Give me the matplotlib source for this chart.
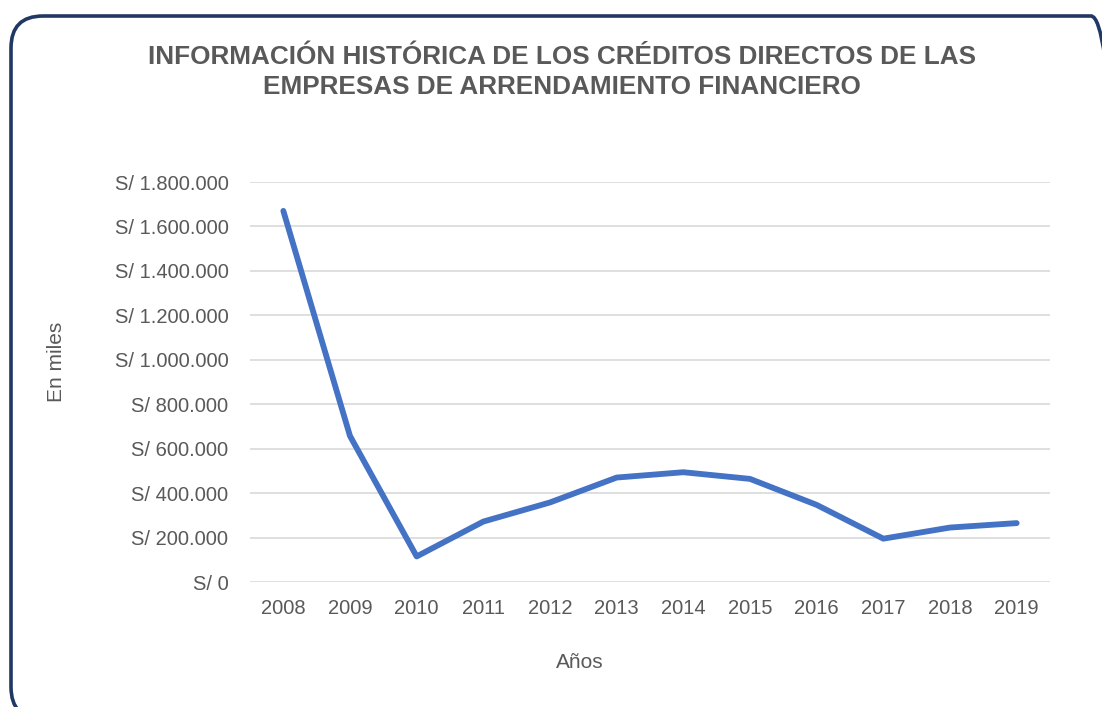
import matplotlib
matplotlib.use("Agg")
import matplotlib.pyplot as plt
from matplotlib.patches import FancyBboxPatch
from matplotlib.ticker import FuncFormatter
from matplotlib import font_manager

years = ["2008", "2009", "2010", "2011", "2012", "2013", "2014", "2015", "2016", "2017", "2018", "2019"]
credits = [1670000, 657000, 115000, 272000, 358000, 470000, 494000, 464000, 347000, 195000, 245000, 265000]
yticks = [0, 200000, 400000, 600000, 800000, 1000000, 1200000, 1400000, 1600000, 1800000]

names = {f.name for f in font_manager.fontManager.ttflist}
fam = ["Liberation Sans Narrow", "Liberation Sans", "DejaVu Sans"] if "Liberation Sans Narrow" in names else ["Liberation Sans", "DejaVu Sans"]
plt.rcParams["font.family"] = fam

W, H = 1102, 707
fig = plt.figure(figsize=(W / 100, H / 100), dpi=100)
fig.patch.set_facecolor("white")

# background axes in pixel units for the rounded frame
bg = fig.add_axes([0, 0, 1, 1], zorder=-1)
bg.set_xlim(0, W)
bg.set_ylim(0, H)
bg.axis("off")
border = FancyBboxPatch((11, -12), 1112, 707 - 16 + 12,
                        boxstyle="round,pad=0,rounding_size=32",
                        facecolor="none", edgecolor="#203864", linewidth=2.6)
bg.add_patch(border)

ax = fig.add_axes([250 / W, 125 / H, 800 / W, 400 / H])
ax.patch.set_alpha(0)
x = list(range(len(years)))
ax.plot(x, credits, color="#4472C4", linewidth=4.2, solid_capstyle="round", solid_joinstyle="round", zorder=3)
ax.set_xlim(-0.5, len(years) - 0.5)
ax.set_ylim(0, 1800000)
ax.set_yticks(yticks)
ax.set_xticks(x)
ax.set_xticklabels(years)

def fmt(v, pos):
    if v == 0:
        return "S/ 0"
    return "S/ " + f"{int(v):,}".replace(",", ".")

ax.yaxis.set_major_formatter(FuncFormatter(fmt))
ax.grid(axis="y", color="#D9D9D9", linewidth=1.2)
ax.set_axisbelow(True)
for s in ax.spines.values():
    s.set_visible(False)
ax.tick_params(axis="both", length=0, labelsize=14.5, colors="#595959")
ax.tick_params(axis="y", pad=15.5)
ax.tick_params(axis="x", pad=12.5)

fig.text(57 / W, 1 - 362 / H, "En miles", rotation=90, ha="center", va="center",
         fontsize=15, color="#595959")
fig.text(580 / W, 1 - 662 / H, "Años", ha="center", va="center",
         fontsize=15, color="#595959")

fig.text(562 / W, 1 - 72 / H,
         "INFORMACIÓN HISTÓRICA DE LOS CRÉDITOS DIRECTOS DE LAS\nEMPRESAS DE ARRENDAMIENTO FINANCIERO",
         ha="center", va="center", fontsize=18.8, fontweight="bold", color="#595959", linespacing=1.32)

fig.savefig("out.png", dpi=100, facecolor="white")
